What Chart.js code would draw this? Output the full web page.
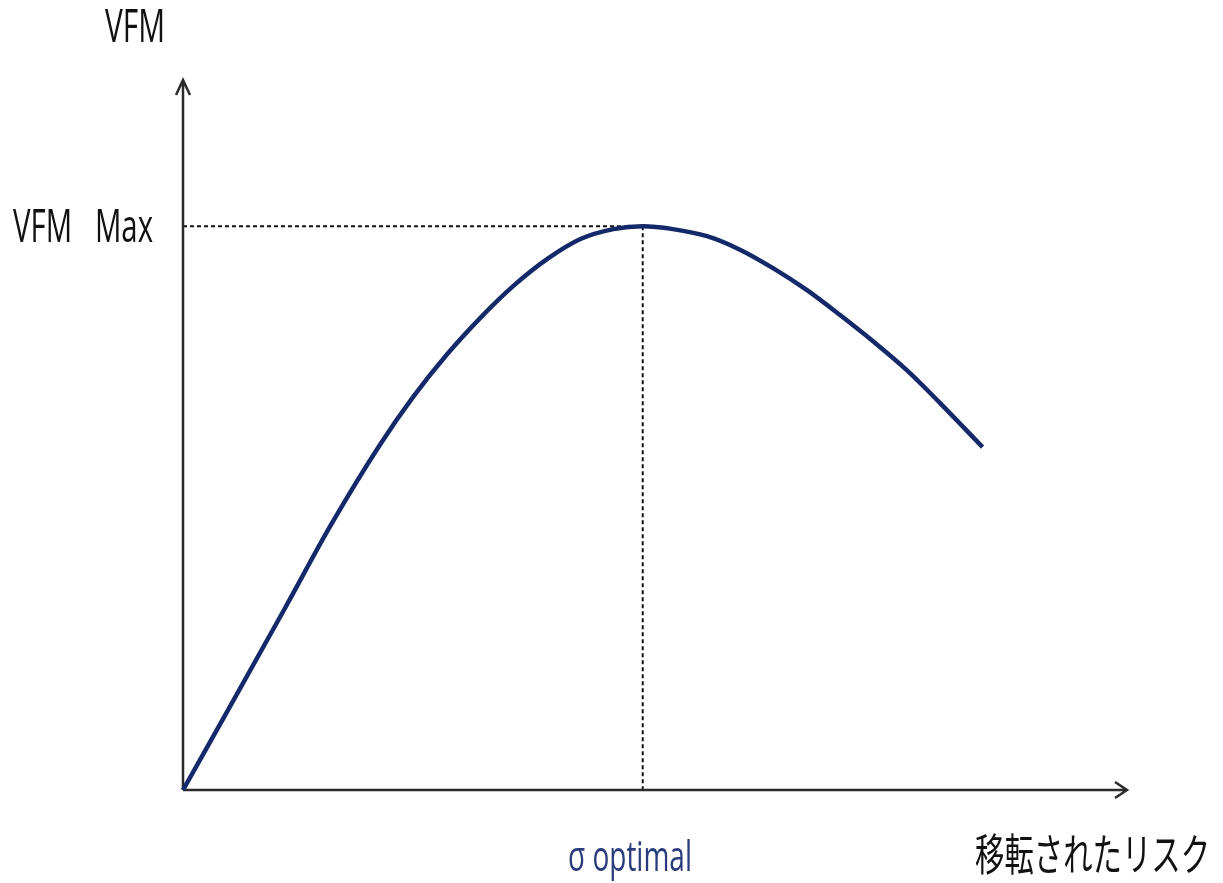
<!DOCTYPE html>
<html>
<head>
<meta charset="utf-8">
<script src="https://cdn.jsdelivr.net/npm/chart.js@4"></script>
<style>
    body { margin: 0; background: #fff; }
    #wrap { width: 1223px; height: 883px; }
</style>
</head>
<body>
<div id="wrap"><canvas id="miGrafico"></canvas></div>
<script>
// curve (x = risk transferred, y = VFM), arbitrary 0-100 units
const riesgoX = [0, 4.2, 10.8, 15.7, 20.9, 24.4, 28.0, 31.5, 35.0, 38.6, 42.1, 45.6, 48.7,
                 51.9, 55.5, 59.0, 62.5, 66.1, 69.6, 73.1, 76.7, 80.2, 84.7];
const vfmY    = [0, 9.9, 25.6, 37.4, 48.7, 55.4, 61.4, 66.5, 71.0, 74.8, 77.6, 79.0, 79.4,
                 79.0, 78.0, 76.1, 73.5, 70.4, 66.9, 63.2, 59.1, 54.5, 48.3];
const optimoX = 48.7;
const vfmMax  = 79.4;

const tituloY   = 'VFM';
const etiquetaMax = 'VFM\u00a0\u00a0\u00a0Max';
const etiquetaOpt = 'σ optimal';
const tituloX   = '移転されたリスク';

const puntos = [];
for (let i = 0; i < riesgoX.length; i++) {
    puntos.push({ x: riesgoX[i], y: vfmY[i] });
}

// text drawn squeezed horizontally, like the original picture
function textoAjustado(ctx, txt, x, y, ancho, font, color) {
    ctx.save();
    ctx.font = font;
    ctx.fillStyle = color;
    ctx.textBaseline = 'alphabetic';
    ctx.textAlign = 'left';
    const w = ctx.measureText(txt).width;
    ctx.translate(x, y);
    ctx.scale(ancho / w, 1);
    ctx.fillText(txt, 0, 0);
    ctx.restore();
}

const ejesPlugin = {
    id: 'ejes',
    beforeDatasetsDraw(chart) {
        const ctx = chart.ctx;
        const xs = chart.scales.x, ys = chart.scales.y;
        const x0 = xs.getPixelForValue(0), y0 = ys.getPixelForValue(0);
        const xEnd = xs.getPixelForValue(100), yEnd = ys.getPixelForValue(100);
        const px = xs.getPixelForValue(optimoX), py = ys.getPixelForValue(vfmMax);

        ctx.save();
        // dashed guides
        ctx.strokeStyle = '#111';
        ctx.lineWidth = 2;
        ctx.setLineDash([4, 3]);
        ctx.beginPath();
        ctx.moveTo(x0, py); ctx.lineTo(px, py);
        ctx.moveTo(px, py); ctx.lineTo(px, y0);
        ctx.stroke();
        ctx.setLineDash([]);

        // axes with open arrows
        ctx.strokeStyle = '#2a2a2a';
        ctx.lineWidth = 2.5;
        ctx.beginPath();
        ctx.moveTo(x0, y0); ctx.lineTo(x0, yEnd);
        ctx.moveTo(x0 - 7, yEnd + 15); ctx.lineTo(x0, yEnd); ctx.lineTo(x0 + 7, yEnd + 15);
        ctx.moveTo(x0, y0); ctx.lineTo(xEnd, y0);
        ctx.moveTo(xEnd - 12, y0 - 8); ctx.lineTo(xEnd, y0); ctx.lineTo(xEnd - 12, y0 + 8);
        ctx.stroke();
        ctx.restore();
    },
    afterDraw(chart) {
        const ctx = chart.ctx;
        textoAjustado(ctx, tituloY, 105, 42, 60, '45px "Open Sans"', '#111');
        textoAjustado(ctx, etiquetaMax, 13, 242, 140, '45px "Open Sans"', '#111');
        textoAjustado(ctx, etiquetaOpt, 568, 871, 124, '42px "Open Sans"', '#2a3c7c');
        textoAjustado(ctx, tituloX, 975, 871, 235, '44px "Noto Sans CJK JP"', '#111');
    }
};

const grafico = new Chart(document.getElementById('miGrafico'), {
    type: 'line',
    data: {
        datasets: [{
            data: puntos,
            borderColor: '#14296a',
            borderWidth: 4.5,
            pointRadius: 0,
            fill: false,
            cubicInterpolationMode: 'monotone',
            clip: false
        }]
    },
    options: {
        responsive: true,
        maintainAspectRatio: false,
        animation: false,
        layout: { padding: { left: 183, right: 96, top: 80, bottom: 93 } },
        scales: {
            x: { type: 'linear', min: 0, max: 100, display: false },
            y: { min: 0, max: 100, display: false }
        },
        plugins: { legend: { display: false }, tooltip: { enabled: false } }
    },
    plugins: [ejesPlugin]
});
</script>
</body>
</html>
